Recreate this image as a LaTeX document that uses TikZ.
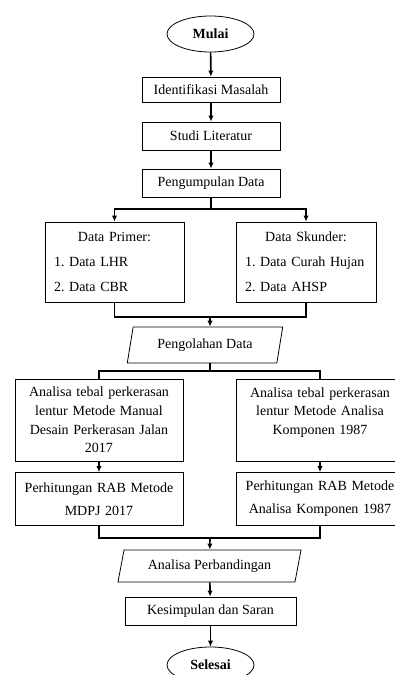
\documentclass[tikz,border=0pt]{standalone}
\usepackage{fontspec}
\setmainfont{Liberation Serif}
\usetikzlibrary{shapes.geometric,arrows.meta}
\tikzset{
  kotak/.style={draw, line width=0.6pt, align=center, inner sep=0pt, minimum width=103.5pt, minimum height=21pt},
  terminal/.style={draw, ellipse, line width=0.6pt, inner sep=0pt, minimum width=65.25pt, minimum height=27pt, font=\bfseries},
  jajaran/.style={draw, trapezium, trapezium stretches=true, line width=0.6pt, inner sep=0pt},
  alur/.style={line width=1.2pt},
  panah/.style={alur, -{Latex[length=4.5pt,width=4pt]}},
}
\begin{document}
\fontsize{10.5}{12.6}\selectfont\frenchspacing
\begin{tikzpicture}[x=0.75pt,y=-0.75pt]
    \useasboundingbox (0,0) rectangle (395,675);
    \clip (0,0) rectangle (395,675);
    \node[terminal] (mulai) at (210.5,34) {Mulai};
    \node[kotak, minimum height=18.75pt] (ident) at (211,89.5) {Identifikasi Masalah};
    \node[kotak] (studi) at (211,136) {Studi Literatur};
    \node[kotak] (kumpul) at (211,183) {Pengumpulan Data};
    \node[kotak, minimum width=104.25pt, minimum height=60pt, text width=90.75pt, align=left,
          font=\fontsize{10.5}{18.75}\selectfont] (primer) at (114.5,262)
          {\makebox[\hsize]{Data Primer:}\\1. Data LHR\\2. Data CBR};
    \node[kotak, minimum width=105pt, minimum height=60pt, text width=91.5pt, align=left,
          font=\fontsize{10.5}{18.75}\selectfont] (skunder) at (306,262)
          {\makebox[\hsize]{Data Skunder:}\\1. Data Curah Hujan\\2. Data AHSP};
    \node[jajaran, trapezium left angle=73, trapezium right angle=107,
          minimum width=117pt, minimum height=27pt] (olah) at (205,345) {Pengolahan Data};
    \node[kotak, minimum width=126pt, minimum height=61.5pt, text width=120pt,
          font=\fontsize{10.5}{13.9}\selectfont] (anal1) at (99,420)
          {Analisa tebal perkerasan\\lentur Metode Manual\\Desain Perkerasan Jalan\\2017};
    \node[kotak, minimum width=126pt, minimum height=61.5pt, text width=120pt,
          font=\fontsize{10.5}{13.9}\selectfont] (anal2) at (320,420)
          {Analisa tebal perkerasan\\lentur Metode Analisa\\Komponen 1987\\\mbox{}};
    \node[kotak, minimum width=126pt, minimum height=39.75pt, text width=120pt,
          font=\fontsize{10.5}{17.25}\selectfont] (rab1) at (99,499)
          {Perhitungan RAB Metode\\MDPJ 2017};
    \node[kotak, minimum width=126pt, minimum height=39.75pt, text width=120pt,
          font=\fontsize{10.5}{17.25}\selectfont] (rab2) at (320,499)
          {Perhitungan RAB Metode\\Analisa Komponen 1987};
    \node[jajaran, trapezium left angle=71, trapezium right angle=109,
          minimum width=138.75pt, minimum height=24pt] (banding) at (209.5,566) {Analisa Perbandingan};
    \node[kotak, minimum width=128.25pt] (kesim) at (210.5,611) {Kesimpulan dan Saran};
    \node[terminal] (selesai) at (210.5,665) {Selesai};
    \coordinate (cabang1) at (211,209);
    \coordinate (gabung1) at (210,317);
    \coordinate (cabang2) at (210,371);
    \coordinate (gabung2) at (210,538);
    \draw [panah] (mulai) -- (ident);
    \draw [panah] (ident) -- (studi);
    \draw [panah] (studi) -- (kumpul);
    \draw [alur] (kumpul) -- (cabang1);
    \draw [panah] (cabang1) -| (primer);
    \draw [panah] (cabang1) -| (skunder);
    \draw [alur] (primer) |- (gabung1) -| (skunder);
    \draw [panah] (gabung1) -- (olah.north -| gabung1);
    \draw [alur] (olah.south -| cabang2) -- (cabang2);
    \draw [alur] (anal1) |- (cabang2) -| (anal2);
    \draw [panah] (anal1) -- (rab1);
    \draw [panah] (anal2) -- (rab2);
    \draw [alur] (rab1) |- (gabung2) -| (rab2);
    \draw [panah] (gabung2) -- (banding);
    \draw [panah] (banding) -- (kesim);
    \draw [panah] (kesim) -- (selesai);
\end{tikzpicture}
\end{document}
